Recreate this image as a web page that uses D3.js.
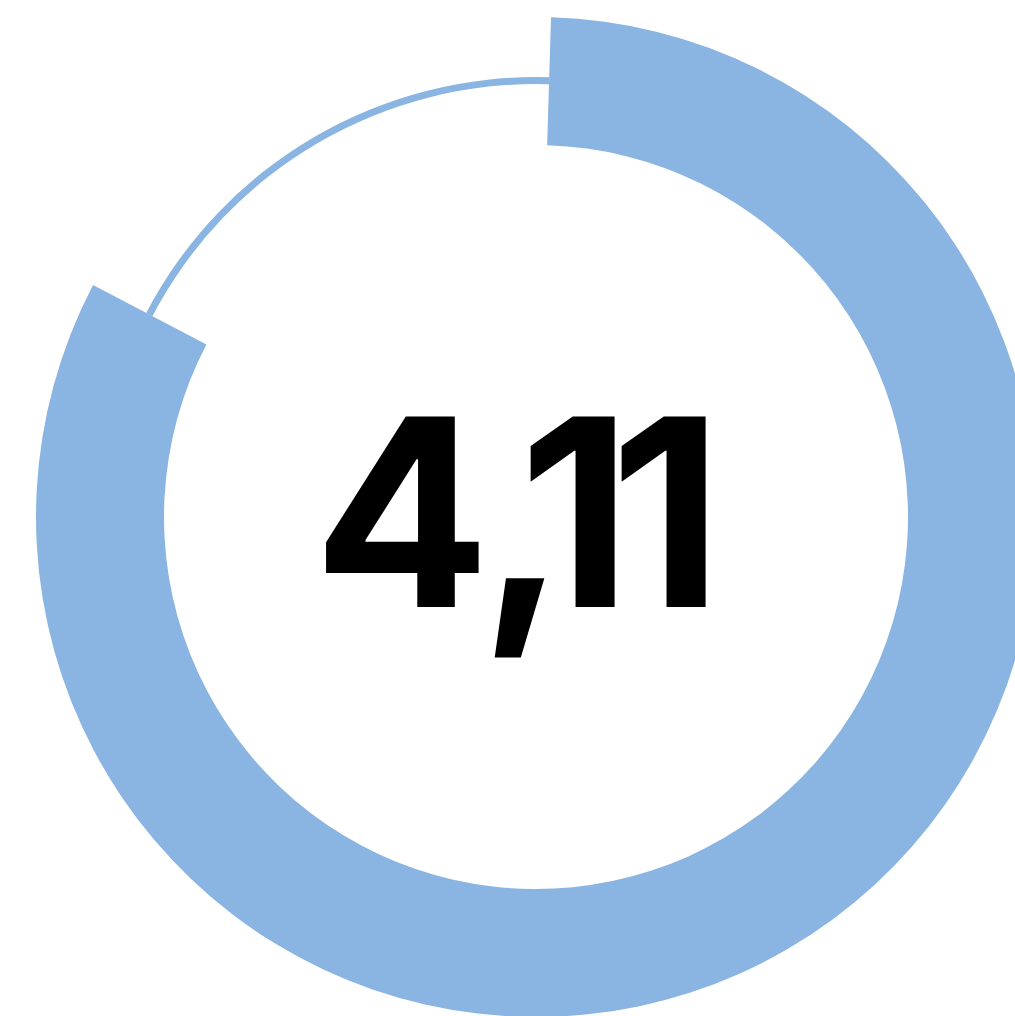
<!DOCTYPE html>
<html>
<head>
<meta charset="utf-8">
<script src="https://cdn.jsdelivr.net/npm/d3@7"></script>
<style>
  html, body { margin: 0; padding: 0; background: #fff; }
</style>
</head>
<body>
<div id="chart"></div>
<script>
// gauge data
var scoreValue = [4.11]
var scoreMax = [5]
var ringColor = '#8ab4e1'

var width = 1015, height = 1016
var cx = 536, cy = 517
var outerR = 500, innerR = 372
var trackOuter = 440, trackInner = 433
var startOffset = 0.03

var svg = d3.select('#chart')
    .append('svg')
    .attr('width', width)
    .attr('height', height)

let g = svg.append('g')
    .attr('transform', 'translate(' + cx + ',' + cy + ')')

let angle = d3.scaleLinear()
    .domain([0, scoreMax[0]])
    .range([startOffset, startOffset + 2 * Math.PI])

let bigArc = d3.arc().innerRadius(innerR).outerRadius(outerR)
let thinArc = d3.arc().innerRadius(trackInner).outerRadius(trackOuter)

// remaining part, thin track
g.append('path')
    .attr('d', thinArc({startAngle: angle(scoreValue[0]), endAngle: angle(scoreMax[0])}))
    .attr('fill', ringColor)

// value part, thick ring
g.append('path')
    .attr('d', bigArc({startAngle: angle(0), endAngle: angle(scoreValue[0])}))
    .attr('fill', ringColor)

let fmt = d3.formatLocale({decimal: ',', thousands: '.', grouping: [3], currency: ['', '']}).format('.2f')

// the digits are set tight, so every glyph gets its own x
// (right ink edge of each glyph, measured with a canvas)
var fontSpec = '700 262px Inter'
var glyphRight = [481, 545, 617, 708]
let ctx = document.createElement('canvas').getContext('2d')
ctx.font = fontSpec

let chars = fmt(scoreValue[0]).split('')
let xs = chars.map((d, i) => glyphRight[i] - ctx.measureText(d).actualBoundingBoxRight)

svg.append('text')
    .attr('x', xs.join(' '))
    .attr('y', 607)
    .attr('font-family', 'Inter, sans-serif')
    .attr('font-weight', 700)
    .attr('font-size', 262)
    .attr('fill', '#000')
    .text(chars.join(''))
</script>
</body>
</html>
